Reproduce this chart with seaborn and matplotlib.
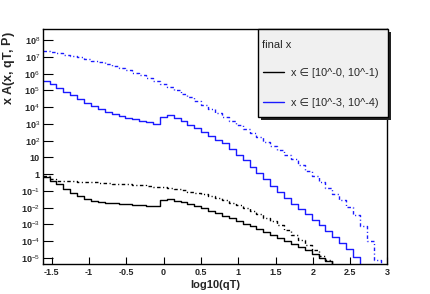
import numpy as np
import pandas as pd
import matplotlib
matplotlib.use("Agg")
import matplotlib.pyplot as plt
import seaborn as sns
from matplotlib.lines import Line2D
from matplotlib.patches import Rectangle
from matplotlib.ticker import FixedLocator, LogLocator, NullFormatter

# histogram binning: 50 bins of log10(qT)
x_lo, x_hi, n_bins = -1.62, 3.0, 50

# x in [10^-0, 10^-1), solid and dotted component
black_solid = [0.71, 0.39, 0.25, 0.126, 0.079, 0.05, 0.032, 0.025, 0.022, 0.02,
               0.0186, 0.0174, 0.0162, 0.0151, 0.0141, 0.0132, 0.012, 0.029, 0.035, 0.026,
               0.021, 0.0162, 0.0126, 0.0091, 0.0066, 0.0047, 0.0033, 0.0023, 0.0016, 0.0011,
               7.8e-4, 5.2e-4, 3.5e-4, 2.4e-4, 1.6e-4, 1.05e-4, 6.9e-5, 4.5e-5, 2.8e-5, 1.8e-5,
               1.05e-5, 6.3e-6, 0, 0, 0, 0, 0, 0, 0, 0]
black_dotted = [0.78, 0.49, 0.42, 0.39, 0.37, 0.355, 0.34, 0.32, 0.31, 0.29,
                0.275, 0.257, 0.245, 0.229, 0.214, 0.195, 0.178, 0.162, 0.145, 0.126,
                0.107, 0.091, 0.076, 0.062, 0.049, 0.037, 0.0275, 0.02, 0.0141, 0.0095,
                0.0063, 0.004, 0.0025, 0.0016, 9.5e-4, 5.0e-4, 2.4e-4, 1.12e-4, 5.6e-5, 2.8e-5,
                1.4e-5, 7.1e-6, 0, 0, 0, 0, 0, 0, 0, 0]
# x in [10^-3, 10^-4)
blue_solid = [3.6e5, 2.3e5, 1.4e5, 8.3e4, 5.0e4, 3.0e4, 1.8e4, 1.17e4, 7.9e3, 5.5e3,
              4.0e3, 3.0e3, 2.4e3, 1.9e3, 1.5e3, 1.23e3, 1.0e3, 2.7e3, 3.4e3, 2.2e3,
              1.4e3, 890, 550, 330, 200, 117, 69, 32, 14.5, 6.6,
              2.8, 1.2, 0.5, 0.21, 0.089, 0.04, 0.0178, 0.0083, 0.004, 0.0019,
              8.9e-4, 4.2e-4, 1.7e-4, 7.6e-5, 3.3e-5, 1.1e-5, 0, 0, 0, 0]
blue_dotted = [2.3e7, 2.0e7, 1.66e7, 1.38e7, 1.15e7, 9.3e6, 7.6e6, 6.0e6, 4.8e6, 3.7e6,
               2.9e6, 2.2e6, 1.6e6, 1.15e6, 7.9e5, 5.4e5, 3.6e5, 2.4e5, 1.6e5, 1.0e5,
               6.3e4, 3.8e4, 2.3e4, 1.35e4, 7.9e3, 4.6e3, 2.6e3, 1.5e3, 870, 500,
               280, 160, 89, 50, 27.5, 14.8, 7.6, 3.5, 1.66, 0.76,
               0.35, 0.15, 0.066, 0.028, 0.0115, 0.0035, 7.9e-4, 1.0e-4, 7.1e-6, 0]

legend_title = "final x"
legend_labels = ["x \u2208 [10^-0, 10^-1)", "x \u2208 [10^-3, 10^-4)"]
x_ticks = [-1.5, -1, -0.5, 0, 0.5, 1, 1.5, 2, 2.5, 3]
x_ticklabels = ["-1.5", "-1", "-0.5", "0", "0.5", "1", "1.5", "2", "2.5", "3"]
y_exps = list(range(-5, 9))
y_ticklabels = ["10$^{-5}$", "10$^{-4}$", "10$^{-3}$", "10$^{-2}$", "10$^{-1}$", "1", "10",
                "10$^{2}$", "10$^{3}$", "10$^{4}$", "10$^{5}$", "10$^{6}$", "10$^{7}$", "10$^{8}$"]

sns.set_theme(style="white")
plt.rcParams["font.family"] = ["Liberation Sans", "DejaVu Sans"]
plt.rcParams["mathtext.fontset"] = "custom"
plt.rcParams["mathtext.rm"] = "Liberation Sans"
plt.rcParams["mathtext.bf"] = "Liberation Sans:bold"

edges = np.linspace(x_lo, x_hi, n_bins + 1)
rows = []
for name, vals in [("bs", black_solid), ("bd", black_dotted), ("us", blue_solid), ("ud", blue_dotted)]:
    v = list(vals) + [vals[-1]]
    for e, y in zip(edges, v):
        rows.append({"series": name, "qT": e, "A": y})
df = pd.DataFrame(rows)

W, H = 431, 294
fig = plt.figure(figsize=(W / 100, H / 100), dpi=100)
ax = fig.add_axes([0.099, 0.102, 0.8, 0.799])
ax.set_yscale("log")

blue = "#1a1aff"
dashdot = (0, (2.5, 1.8, 0.8, 1.8))
styles = {"bs": ("black", "-"), "bd": ("black", dashdot),
          "us": (blue, "-"), "ud": (blue, dashdot)}
for name in ["bd", "ud", "bs", "us"]:
    c, ls = styles[name]
    sns.lineplot(data=df[df.series == name], x="qT", y="A", ax=ax, color=c,
                 linestyle=ls, linewidth=1.0, drawstyle="steps-post",
                 estimator=None, sort=False, legend=False)

ax.set_xlim(x_lo, x_hi)
ax.set_ylim(10 ** -5.36, 10 ** 8.66)

ax.xaxis.set_major_locator(FixedLocator(x_ticks))
ax.set_xticklabels(x_ticklabels, fontsize=6.5, fontweight="bold")
ax.xaxis.set_minor_locator(FixedLocator(np.arange(-1.6, 3.01, 0.1)))
ax.set_yticks([10.0 ** e for e in y_exps])
ax.set_yticklabels(y_ticklabels, fontsize=6.5, fontweight="bold")
ax.yaxis.set_minor_locator(LogLocator(base=10, subs=np.arange(2, 10), numticks=40))
ax.yaxis.set_minor_formatter(NullFormatter())
ax.tick_params(axis="x", which="major", direction="in", length=5, width=0.8, pad=3, color="black")
ax.tick_params(axis="x", which="minor", direction="in", length=2.5, width=0.8, color="black")
ax.tick_params(axis="y", which="major", direction="in", length=7, width=0.8, pad=2, color="black")
ax.tick_params(axis="y", which="minor", direction="in", length=3.5, width=0.8, color="black")
ax.tick_params(bottom=True, left=True, top=False, right=False)
for s in ax.spines.values():
    s.set_color("black")
    s.set_linewidth(1.0)

ax.set_xlabel("log10(qT)", fontsize=8, fontweight="bold", labelpad=2)
ax.set_ylabel("x A(x, qT, $\\overline{\\mathbf{P}}$)", fontsize=9, fontweight="bold", loc="top")
ax.yaxis.set_label_coords(-0.072, 0.99)

# legend box (ROOT style: grey fill, black frame, drop shadow)
box_x0, box_y0, box_w, box_h = 258 / W, 1 - 117 / H, 130 / W, 88 / H
fig.add_artist(Rectangle((box_x0 + 3 / W, box_y0 - 3 / H), box_w, box_h, transform=fig.transFigure,
                         facecolor="#222222", edgecolor="none", zorder=5))
fig.add_artist(Rectangle((box_x0, box_y0), box_w, box_h, transform=fig.transFigure,
                         facecolor="#f0f0f0", edgecolor="black", linewidth=1.0, zorder=6))
fig.text(262 / W, 1 - 45 / H, legend_title, fontsize=8, va="center", ha="left", zorder=7)

handles = [Line2D([], [], color="black", lw=1.0), Line2D([], [], color=blue, lw=1.0)]
leg = fig.legend(handles, legend_labels, loc="upper left",
                 bbox_to_anchor=(262.5 / W, 1 - 67.5 / H),
                 fontsize=7.8, frameon=False, borderpad=0, borderaxespad=0,
                 labelspacing=1.85, handlelength=2.0, handletextpad=0.6)
leg.set_zorder(8)

fig.savefig("out.png", dpi=100)
